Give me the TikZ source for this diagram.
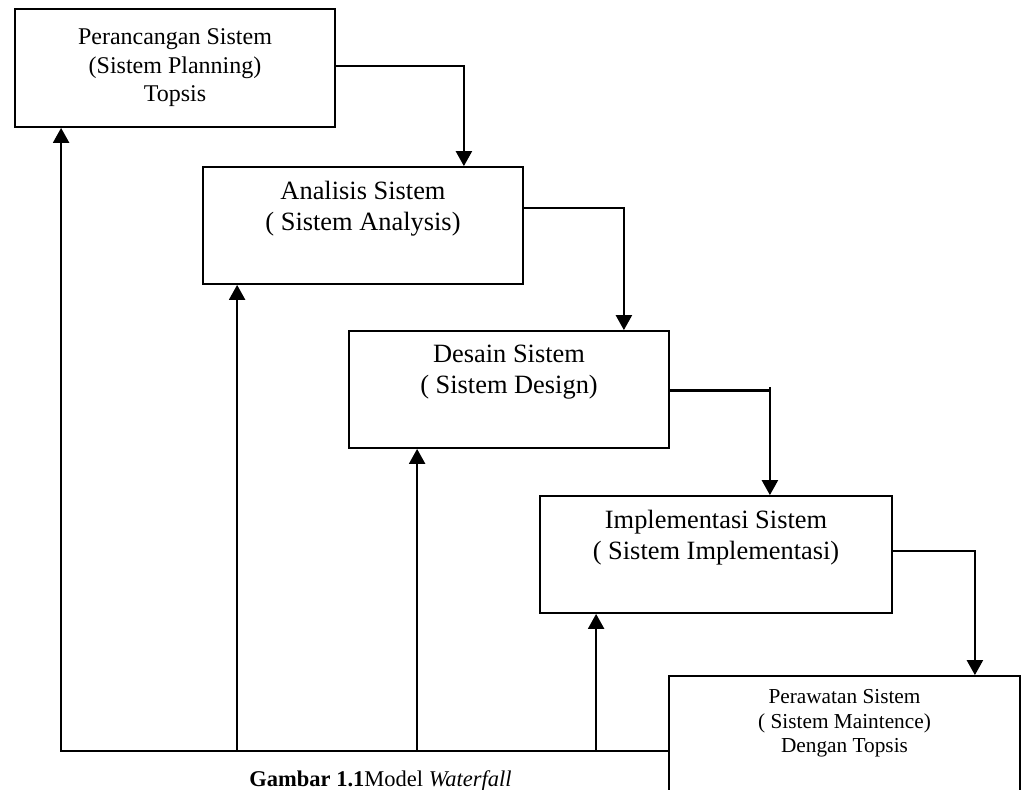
\documentclass[tikz,border=0pt]{standalone}
\usepackage{fontspec}
\setmainfont{Liberation Serif}
\usetikzlibrary{arrows.meta}
\tikzset{
	stage/.style={draw,line width=.9pt,align=center,minimum width=160pt,minimum height=58.5pt,inner sep=0pt,font=\fontsize{13.2}{15.5}\selectfont},
	flow/.style={line width=1.15pt,-{Triangle[length=7.5pt,width=8pt]}},
}
\begin{document}
\begin{tikzpicture}[x=.5pt,y=-.5pt]
		\useasboundingbox (0,0) rectangle (1021,789);
		\clip (0,0) rectangle (1021,789);
		\node[stage,minimum height=59pt,font=\fontsize{12}{14.25}\selectfont](plan) at (175,68){Perancangan Sistem\\(Sistem Planning)\\Topsis};
		\node[stage](anal) at (363,225.5){Analisis Sistem\\( Sistem Analysis)\\\strut};
		\node[stage](desn) at (509,389.5){Desain Sistem\\( Sistem Design)\\\strut};
		\node[stage,minimum width=176pt](impl) at (716,554.5){Implementasi Sistem\\( Sistem Implementasi)\\\strut};
		\node[stage,minimum width=175.5pt,minimum height=61pt,font=\fontsize{10.65}{12.25}\selectfont](care) at (844.5,737){Perawatan Sistem\\( Sistem Maintence)\\Dengan Topsis\\\strut};
		\coordinate (drop3) at ([xshift=-61.5pt]impl.north east);
		\coordinate (out3) at ([yshift=-.5pt]desn.east);
		\draw[flow]([yshift=1pt]plan.east) -| ([xshift=-30pt]anal.north east);
		\draw[flow]([yshift=8.75pt]anal.east) -| ([xshift=-23pt]desn.north east);
		\draw[flow](out3) -| (drop3);
		\draw[line width=1.15pt](drop3|-out3) -- ++(0,2pt);
		\draw[flow]([yshift=1.75pt]impl.east) -| ([xshift=-23pt]care.north east);
		\coordinate (base) at ([yshift=-7pt]care.west);
		\coordinate (f1) at ([xshift=23.5pt]plan.south west);
		\coordinate (f2) at ([xshift=17.5pt]anal.south west);
		\coordinate (f3) at ([xshift=34.5pt]desn.south west);
		\coordinate (f4) at ([xshift=28.5pt]impl.south west);
		\draw[flow](base) -| (f1);
		\draw[flow](f2|-base) -- (f2);
		\draw[flow](f3|-base) -- (f3);
		\draw[flow](f4|-base) -- (f4);
		\node[anchor=base west,inner sep=0pt,font=\fontsize{11.25}{13}\selectfont](cap) at (249,786){\textbf{Gambar 1.1}Model \textit{Waterfall}};
	    \end{tikzpicture}
\end{document}
